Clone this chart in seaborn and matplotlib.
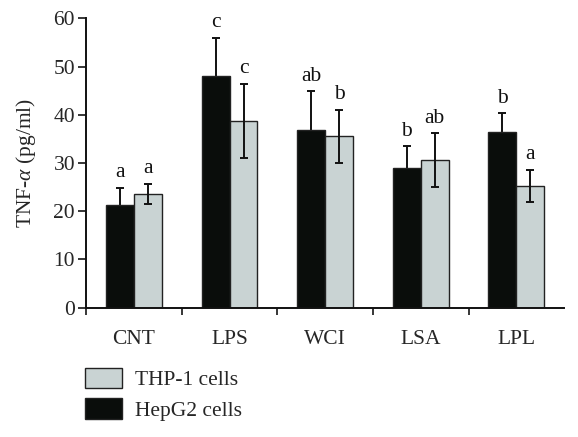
import matplotlib
matplotlib.use("Agg")
import matplotlib.pyplot as plt
import seaborn as sns
import pandas as pd
import numpy as np
from matplotlib.patches import Patch

categories = ["CNT", "LPS", "WCI", "LSA", "LPL"]
hepg2_mean = [21.3, 48.1, 36.9, 29.0, 36.4]
hepg2_sd = [3.6, 7.9, 8.0, 4.5, 4.0]
thp1_mean = [23.6, 38.8, 35.6, 30.6, 25.3]
thp1_sd = [2.1, 7.7, 5.5, 5.6, 3.3]
hepg2_letters = ["a", "c", "ab", "b", "b"]
thp1_letters = ["a", "c", "b", "ab", "a"]
series = ["HepG2 cells", "THP-1 cells"]
yticks = [0, 10, 20, 30, 40, 50, 60]

sns.set_style("ticks")
plt.rcParams["font.family"] = ["Liberation Serif", "DejaVu Serif"]
plt.rcParams["mathtext.fontset"] = "custom"
plt.rcParams["mathtext.rm"] = "Liberation Serif"
plt.rcParams["mathtext.it"] = "Liberation Serif:italic"

df = pd.DataFrame({
    "category": categories * 2,
    "series": [series[0]] * len(categories) + [series[1]] * len(categories),
    "value": hepg2_mean + thp1_mean,
})

black = "#0a0d0b"
gray = "#c9d3d3"
palette = {series[0]: black, series[1]: gray}

fig = plt.figure(figsize=(5.78, 4.37), dpi=100)
ax = fig.add_axes([0.149, 0.2963, 0.976 - 0.149, 0.9577 - 0.2963])

sns.barplot(data=df, x="category", y="value", hue="series", order=categories,
            hue_order=series, palette=palette, width=0.585, errorbar=None,
            edgecolor="#222222", linewidth=1.0, saturation=1, legend=False, ax=ax)

fs = 15.5
for i, (cont, means, sds, letters) in enumerate(zip(ax.containers, [hepg2_mean, thp1_mean],
                                                   [hepg2_sd, thp1_sd],
                                                   [hepg2_letters, thp1_letters])):
    for p in cont.patches:
        p.set_zorder(2)
    xs = [p.get_x() + p.get_width() / 2 for p in cont.patches]
    z = 1 if i == 0 else 5
    ax.errorbar(xs, means, yerr=sds, fmt="none", ecolor="#111111",
                elinewidth=1.4, capsize=3.2, capthick=1.4, zorder=z)
    for x, m, s, t in zip(xs, means, sds, letters):
        ax.text(x, m + s + 1.1, t, ha="center", va="bottom", fontsize=fs,
                color="#111111")

ax.set_ylim(0, 60)
ax.set_xlim(-0.5, 4.5)
ax.set_yticks(yticks)
ax.set_xticks(range(len(categories)))
ax.set_xticklabels(categories)
ax.set_xticks(np.arange(-0.5, 4.0, 1.0), minor=True)
ax.tick_params(axis="x", which="major", length=0, pad=16, labelsize=fs)
ax.tick_params(axis="x", which="minor", length=5, width=1.3, direction="out")
ax.tick_params(axis="y", length=6, width=1.3, labelsize=fs, pad=2)
ax.set_xlabel("")
ax.set_ylabel(r"TNF-$\alpha$ (pg/ml)", fontsize=fs, labelpad=11)
for s in ["top", "right"]:
    ax.spines[s].set_visible(False)
for s in ["left", "bottom"]:
    ax.spines[s].set_linewidth(1.4)
    ax.spines[s].set_color("#111111")
    ax.spines[s].set_zorder(6)

handles = [Patch(facecolor=gray, edgecolor="#222222", linewidth=1.0, label=series[1]),
           Patch(facecolor=black, edgecolor="#222222", linewidth=1.0, label=series[0])]
fig.legend(handles=handles, loc="upper left", bbox_to_anchor=(85 / 578, 1 - 368 / 437),
           frameon=False, fontsize=fs, handlelength=1.7, handleheight=1.07,
           handletextpad=0.6, labelspacing=0.37, borderpad=0, borderaxespad=0)

fig.savefig("out.png", dpi=100)
